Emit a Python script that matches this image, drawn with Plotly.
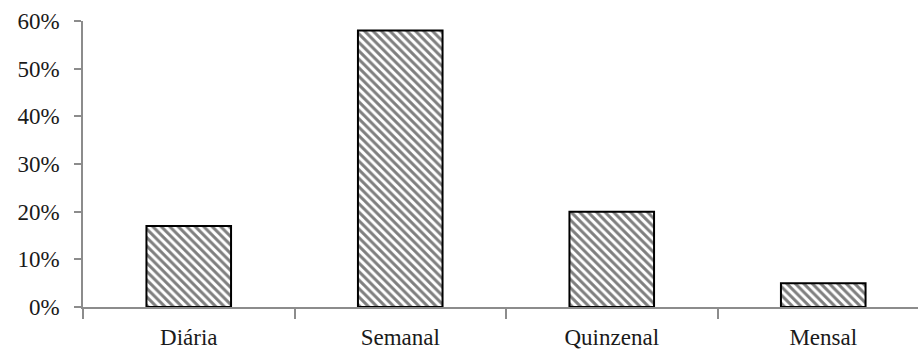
import plotly.graph_objects as go

# Frequency of participation, share of respondents
categories = ["Diária", "Semanal", "Quinzenal", "Mensal"]
shares = [0.17, 0.58, 0.20, 0.05]
y_ticks = [0, 0.1, 0.2, 0.3, 0.4, 0.5, 0.6]
y_tick_labels = ["0%", "10%", "20%", "30%", "40%", "50%", "60%"]

AXIS_GRAY = "#8c8c8c"
FONT = dict(family="Liberation Serif, Times New Roman, serif", size=23, color="#1a1a1a")

fig = go.Figure(
    go.Bar(
        x=categories,
        y=shares,
        width=0.4,
        marker=dict(
            color="white",
            line=dict(color="black", width=2),
            pattern=dict(shape="\\", fgcolor="black", bgcolor="white",
                         size=6, solidity=0.5, fillmode="overlay"),
        ),
        hoverinfo="skip",
    )
)

fig.update_layout(
    width=918,
    height=352,
    margin=dict(l=83, r=0, t=21, b=45),
    paper_bgcolor="white",
    plot_bgcolor="white",
    font=FONT,
    showlegend=False,
)

fig.update_xaxes(
    type="category",
    range=[-0.5, 3.448],
    showline=True,
    linecolor=AXIS_GRAY,
    linewidth=1.5,
    ticks="outside",
    tickson="boundaries",
    ticklen=10,
    tickcolor=AXIS_GRAY,
    tickwidth=1.5,
    showgrid=False,
    zeroline=False,
    ticklabelstandoff=9,
    tickfont=FONT,
)

fig.update_yaxes(
    range=[0, 0.6],
    tickvals=y_ticks,
    ticktext=y_tick_labels,
    showline=True,
    linecolor=AXIS_GRAY,
    linewidth=1.5,
    ticks="outside",
    ticklen=7,
    tickcolor=AXIS_GRAY,
    tickwidth=1.5,
    showgrid=False,
    zeroline=False,
    ticklabelstandoff=10,
    tickfont=FONT,
)

fig.write_html("out.html")
